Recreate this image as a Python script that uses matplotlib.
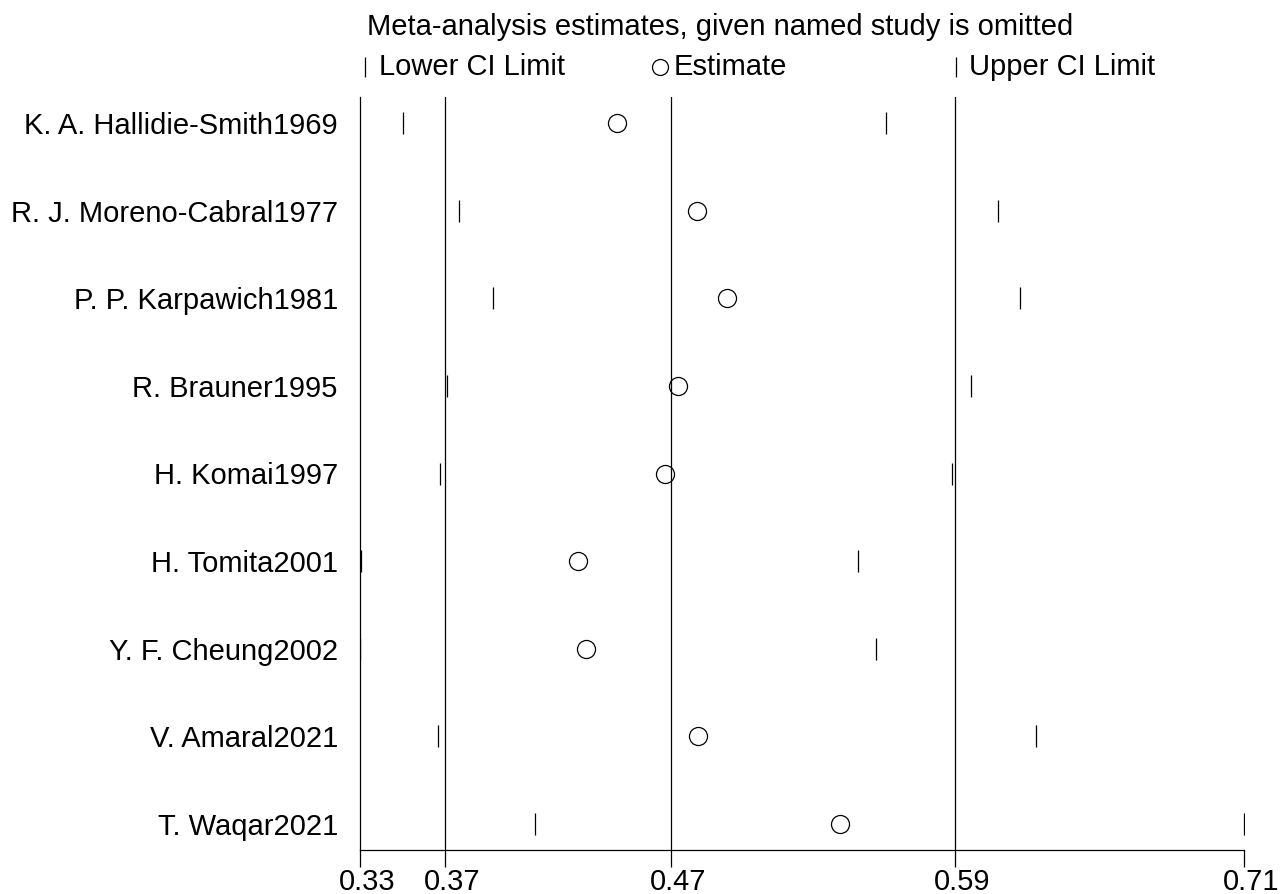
import matplotlib.pyplot as plt
import matplotlib.transforms as mtransforms

plt.rcParams['font.family'] = ['Liberation Sans', 'DejaVu Sans']

studies = ["K. A. Hallidie-Smith1969", "R. J. Moreno-Cabral1977", "P. P. Karpawich1981",
           "R. Brauner1995", "H. Komai1997", "H. Tomita2001", "Y. F. Cheung2002",
           "V. Amaral2021", "T. Waqar2021"]
lower = [0.3526, 0.3765, 0.3911, 0.3714, 0.3684, 0.3346, 0.3342, 0.3676, 0.4090]
estimate = [0.4441, 0.4782, 0.4911, 0.4701, 0.4646, 0.4274, 0.4308, 0.4787, 0.5394]
upper = [0.5590, 0.6069, 0.6163, 0.5953, 0.5872, 0.5470, 0.5547, 0.6231, 0.7120]

overall_lower = 0.3706
overall_est = 0.4671
overall_upper = 0.5885

tick_vals = [min(lower), overall_lower, overall_est, overall_upper, max(upper)]
tick_labels = ["%.2f" % v for v in tick_vals]

FS = 21

fig = plt.figure(figsize=(12.82, 8.94), dpi=100)
ax = fig.add_axes([360 / 1282, 1 - 850 / 894, 884 / 1282, 753 / 894])

rows = list(range(len(studies)))
for v in [overall_lower, overall_est, overall_upper]:
    ax.axvline(v, color="black", lw=0.9)

ax.plot(lower, rows, ls="none", marker="|", ms=16, mew=0.9, color="black")
ax.plot(upper, rows, ls="none", marker="|", ms=16, mew=0.9, color="black")
ax.plot(estimate, rows, ls="none", marker="o", ms=13, mew=0.9,
        mfc="none", mec="black")

ax.set_xlim(min(lower), max(upper))
ax.set_ylim(len(studies) - 1 + 0.297, -0.297)
ax.set_yticks(rows)
ax.set_yticklabels(studies, fontsize=FS)
ax.tick_params(axis="y", length=0, pad=16)
ax.set_xticks(tick_vals)
ax.set_xticklabels(tick_labels, fontsize=FS)
ax.tick_params(axis="x", length=12, width=0.9, pad=1)
offset = mtransforms.ScaledTranslation(7 / 100, 0, fig.dpi_scale_trans)
for lab in ax.get_xticklabels():
    lab.set_transform(lab.get_transform() + offset)

for side in ["top", "right"]:
    ax.spines[side].set_visible(False)
for side in ["left", "bottom"]:
    ax.spines[side].set_linewidth(0.9)

fig.text(720 / 1282, 1 - 27 / 894, "Meta-analysis estimates, given named study is omitted",
         ha="center", va="center", fontsize=FS)

# legend row
ly = 1 - 67 / 894
fig.lines.append(plt.Line2D([365 / 1282], [ly], transform=fig.transFigure, ls="none",
                            marker="|", ms=14, mew=0.9, color="black"))
fig.text(379 / 1282, ly, "Lower CI Limit", ha="left", va="center", fontsize=FS)
fig.lines.append(plt.Line2D([660 / 1282], [ly], transform=fig.transFigure, ls="none",
                            marker="o", ms=11.5, mew=0.9, mfc="none", mec="black"))
fig.text(674 / 1282, ly, "Estimate", ha="left", va="center", fontsize=FS)
fig.lines.append(plt.Line2D([956 / 1282], [ly], transform=fig.transFigure, ls="none",
                            marker="|", ms=14, mew=0.9, color="black"))
fig.text(969 / 1282, ly, "Upper CI Limit", ha="left", va="center", fontsize=FS)

fig.savefig("out.png", dpi=100)
